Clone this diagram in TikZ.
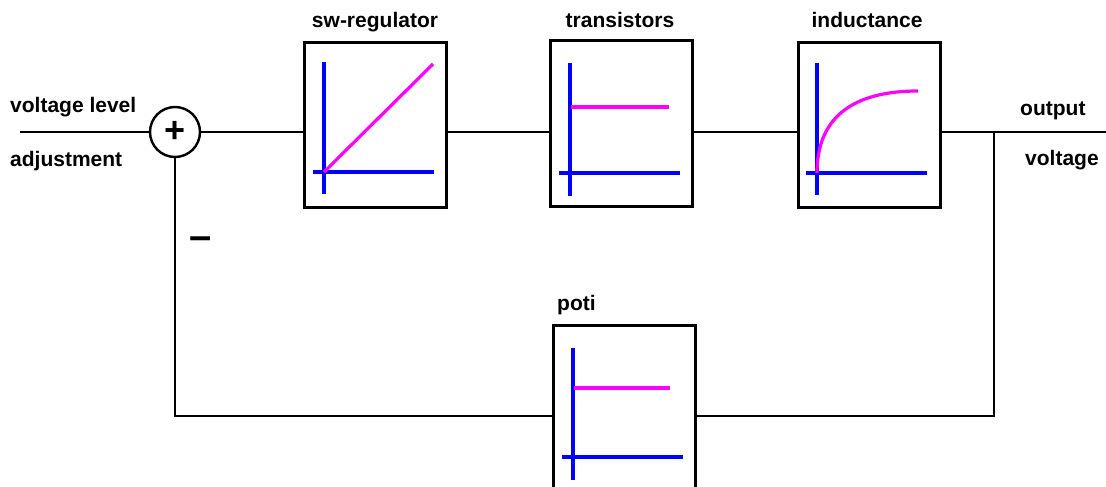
\documentclass[tikz,border=0pt]{standalone}
\usepackage{fontspec}
\setmainfont{Liberation Sans}
\definecolor{plotblue}{RGB}{0,0,255}
\definecolor{plotmag}{RGB}{255,0,255}
\begin{document}
\begin{tikzpicture}[x=1pt,y=-1pt,
  blk/.style={draw, line width=3pt, minimum width=142pt, minimum height=165pt, inner sep=0pt, fill=white},
  wire/.style={line width=1.6pt},
  axis/.style={plotblue, line width=3.2pt},
  curve/.style={plotmag, line width=3.2pt},
  lbl/.style={font=\bfseries\fontsize{21}{25}\selectfont, inner sep=0pt}]
\clip (0,0) rectangle (1106,487);
\fill[white] (0,0) rectangle (1106,487);
% blocks
\node[blk] (sw) at (375,125) {};
\node[blk] (tr) at (621.5,123.5) {};
\node[blk] (ind) at (869.5,125) {};
\node[blk, minimum height=200pt] (poti) at (624,425) {};
\node[circle, draw, line width=2.4pt, minimum size=50pt, inner sep=0pt,
      font=\bfseries\fontsize{36}{36}\selectfont] (sum) at (175,132) {+};
% connectors
\coordinate (in) at (20,132);
\coordinate (tap) at (994,132);
\coordinate (out) at (1106,132);
\coordinate (fb) at (994,416);
\draw[wire] (in) -- (sum.west);
\draw[wire] (sum.east) -- (sum.east -| sw.west);
\draw[wire] (sw.east |- sum) -- (tr.west |- sum);
\draw[wire] (tr.east |- sum) -- (ind.west |- sum);
\draw[wire] (ind.east |- sum) -- (out);
\draw[wire] (tap) -- (fb) -- (fb -| poti.east);
\draw[wire] (poti.west |- fb) -| (sum.south);
% plots
\draw[axis] (324,62) -- (324,194);
\draw[axis] (313,172) -- (434,172);
\draw[curve] (324,172) -- (433,64);
\draw[axis] (570,63) -- (570,196);
\draw[axis] (559,173) -- (680,173);
\draw[curve] (571,107) -- (669,107);
\draw[axis] (817,63) -- (817,195);
\draw[axis] (806,173) -- (927,173);
\draw[curve] (817,173) .. controls (817,118) and (852,91) .. (918,91);
\draw[axis] (573,348) -- (573,480);
\draw[axis] (562,457) -- (683,457);
\draw[curve] (574,388) -- (670,388);
% labels
\node[lbl, anchor=base] (lsw) at (375,28) {sw-regulator};
\node[lbl, anchor=base] (ltr) at (620,28) {transistors};
\node[lbl, anchor=base] (lind) at (867,28) {inductance};
\node[lbl, anchor=base west] (lpoti) at (557,310) {poti};
\node[lbl, anchor=base west] (lin1) at (10,113) {voltage level};
\node[lbl, anchor=base west] (lin2) at (10,166) {adjustment};
\node[lbl, anchor=base west] (lout1) at (1020,115) {output};
\node[lbl, anchor=base west] (lout2) at (1025,165) {voltage};
\node[font=\bfseries\fontsize{40}{40}\selectfont, inner sep=0pt] (minus) at (201,243) {–};
\end{tikzpicture}
\end{document}
